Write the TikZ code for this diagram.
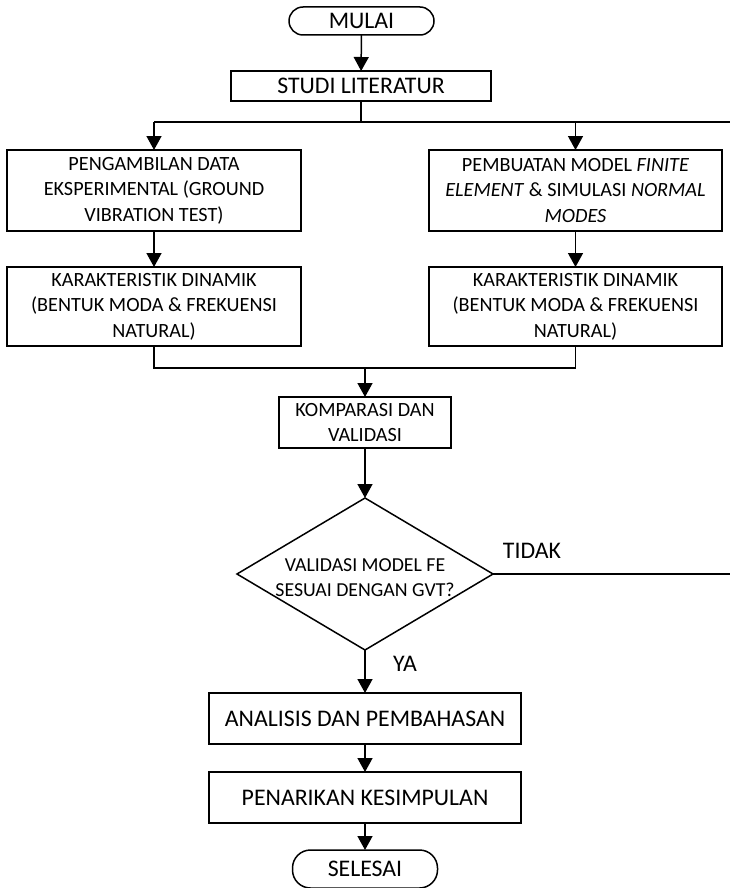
\documentclass[tikz,border=0pt]{standalone}
\usepackage{fontspec}
\setmainfont{Carlito}
\usetikzlibrary{shapes.geometric,arrows.meta}
\begin{document}
\begin{tikzpicture}[x=1pt,y=-1pt,
  every node/.style={inner sep=0pt, outer sep=0pt},
  box/.style={draw, line width=1.5pt, align=center, font=\fontsize{20.2}{25.5}\selectfont},
  bigbox/.style={draw, line width=1.5pt, align=center, font=\fontsize{23.8}{28}\selectfont},
  term/.style={draw, line width=1.5pt, rounded corners=14pt, font=\fontsize{23.8}{28}\selectfont},
  decision/.style={draw, diamond, line width=1.5pt, aspect=1.68},
  dectxt/.style={align=center, font=\fontsize{19.8}{25}\selectfont},
  line/.style={line width=1.5pt},
  arr/.style={line width=1.5pt, -{Triangle[length=14pt,width=15pt]}},
  lbl/.style={font=\fontsize{23.8}{28}\selectfont}]
\useasboundingbox (0,0) rectangle (729,888);

\node[term, minimum width=145pt, minimum height=28pt] (mulai) at (361.5,21) {MULAI};
\node[bigbox, minimum width=260pt, minimum height=30pt] (studi) at (361,86) {STUDI LITERATUR};

\node[box, minimum width=294pt, minimum height=81pt] (p1) at (154,190.5)
  {PENGAMBILAN DATA\\EKSPERIMENTAL (GROUND\\VIBRATION TEST)};
\node[box, minimum width=294pt, minimum height=79pt] (p2) at (154,306.5)
  {KARAKTERISTIK DINAMIK\\(BENTUK MODA \& FREKUENSI\\NATURAL)};
\node[box, minimum width=293pt, minimum height=81pt] (q1) at (575.5,190.5)
  {PEMBUATAN MODEL \textit{FINITE}\\\textit{ELEMENT} \& SIMULASI \textit{NORMAL}\\\textit{MODES}};
\node[box, minimum width=293pt, minimum height=79pt] (q2) at (575.5,306.5)
  {KARAKTERISTIK DINAMIK\\(BENTUK MODA \& FREKUENSI\\NATURAL)};

\node[box, minimum width=172pt, minimum height=51pt] (komp) at (365,422.5)
  {KOMPARASI DAN\\VALIDASI};

\node[decision, minimum width=256pt, minimum height=152pt] (dec) at (365,574) {};
\node[dectxt] (dect) at (365,577.5) {VALIDASI MODEL FE\\SESUAI DENGAN GVT?};

\node[bigbox, minimum width=312pt, minimum height=51pt] (anal) at (365,718.5) {ANALISIS DAN PEMBAHASAN};
\node[bigbox, minimum width=312pt, minimum height=51pt] (pen) at (365,797.5) {PENARIKAN KESIMPULAN};
\node[term, minimum width=145pt, minimum height=38pt, rounded corners=18pt] (sel) at (365,869) {SELESAI};

\node[lbl] (tidak) at (532,551) {TIDAK};
\node[lbl] (ya) at (405,664) {YA};

% coordinates
\coordinate (jt) at (361,122);
\coordinate (jl) at (154,122);
\coordinate (jr) at (575.5,122);
\coordinate (edge) at (736,122);
\coordinate (bl) at (154,368);
\coordinate (bm) at (365,368);
\coordinate (br) at (575.5,368);
\coordinate (redge) at (736,574);

% connectors
\draw[arr] (mulai) -- (studi);
\draw[line] (studi) -- (jt);
\draw[line] (jl) -- (edge);
\draw[arr] (jl) -- (p1);
\draw[arr] (jr) -- (q1);
\draw[arr] (p1) -- (p2);
\draw[arr] (q1) -- (q2);
\draw[line] (p2.south) -- (bl) -- (br) -- (q2.south);
\draw[arr] (bm) -- (komp);
\draw[arr] (komp) -- (dec);
\draw[line] (dec.east) -- (redge) -- (edge);
\draw[arr] (dec.south) -- (anal);
\draw[arr] (anal) -- (pen);
\draw[arr] (pen) -- (sel);
\end{tikzpicture}
\end{document}
